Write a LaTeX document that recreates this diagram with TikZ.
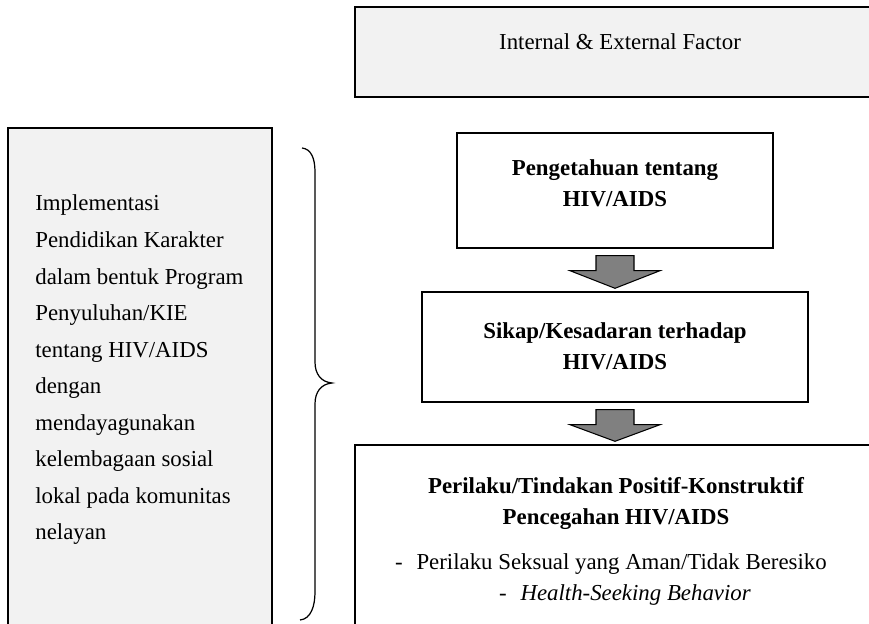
\documentclass[tikz,border=0pt]{standalone}
\usepackage{fontspec}
\setmainfont{Liberation Serif}
\usetikzlibrary{calc}
\definecolor{boxgray}{HTML}{F2F2F2}
\definecolor{arrowgray}{HTML}{808080}

\begin{document}
\begin{tikzpicture}[x=0.02cm,y=-0.02cm,
  box/.style={draw,line width=0.8pt,inner sep=0pt},
  txt/.style={font=\fontsize{13}{20.8}\selectfont,inner sep=0pt},
  bold/.style={font=\fontsize{13}{18.1}\selectfont\bfseries,inner sep=0pt,align=center},
  fatarrow/.style={draw,fill=arrowgray,line width=0.6pt}]
\useasboundingbox (0,0) rectangle (869,624);
\clip (0,0) rectangle (869,624);

\node[box,fill=boxgray,minimum width=10.6cm,minimum height=1.8cm] (factor) at (620,52) {};
\node[txt,anchor=base] (factortxt) at (620,50) {Internal \& External Factor};

\node[box,fill=boxgray,minimum width=5.28cm,minimum height=10.64cm] (program) at (140,394) {};
\node[txt,anchor=base west,text width=5cm,align=flush left] (programtxt) at (35,211)
  {Implementasi\\Pendidikan Karakter\\dalam bentuk Program\\Penyuluhan/KIE\\tentang HIV/AIDS\\dengan\\mendayagunakan\\kelembagaan sosial\\lokal pada komunitas\\nelayan};

\node[box,minimum width=6.32cm,minimum height=2.3cm] (know) at (615,190.5) {};
\node[bold,anchor=base] (knowtxt) at (615,207) {Pengetahuan tentang\\HIV/AIDS};

\node[box,minimum width=7.72cm,minimum height=2.2cm] (att) at (615,347) {};
\node[bold,anchor=base] (atttxt) at (615,370) {Sikap/Kesadaran terhadap\\HIV/AIDS};

\node[box,minimum width=10.4cm,minimum height=4.3cm] (act) at (615,552.5) {};
\node[bold,anchor=base] (acttxt) at (616,525) {Perilaku/Tindakan Positif-Konstruktif\\Pencegahan HIV/AIDS};
\node[txt,anchor=base] (sex) at (611,570) {-\hspace{0.6em}Perilaku Seksual yang Aman/Tidak Beresiko};
\node[txt,anchor=base] (health) at (625,601) {-\hspace{0.6em}\textit{Health-Seeking Behavior}};

\foreach \a/\b in {know/att,att/act}
  \draw[fatarrow] ($(\a.south)+(-19,7)$) -- ($(\a.south)+(19,7)$) -- ($(\a.south)+(19,22)$)
    -- ($(\a.south)+(45,22)$) -- ($(\b.north)+(0,-3)$) -- ($(\a.south)+(-45,22)$)
    -- ($(\a.south)+(-19,22)$) -- cycle;

\draw[line width=0.7pt] (302,148) .. controls (311,149) and (315,158) .. (315,172) -- (315,362)
  .. controls (315,374) and (321,382) .. (332,383) .. controls (321,384) and (315,392) .. (315,404)
  -- (315,592) .. controls (315,606) and (311,619) .. (300,620);

\end{tikzpicture}
\end{document}
